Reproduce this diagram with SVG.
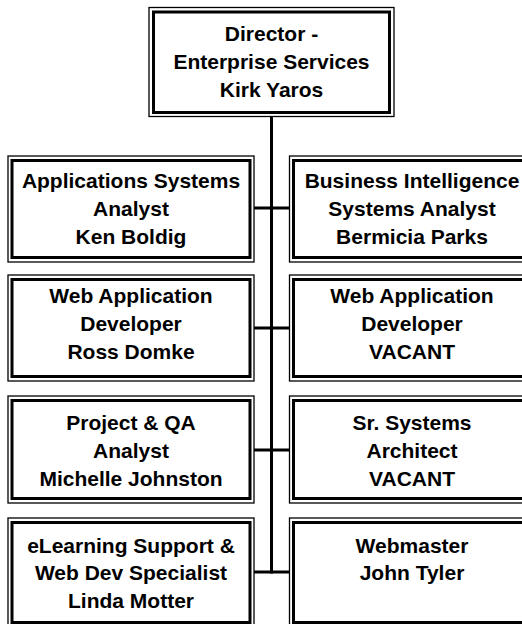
<svg xmlns="http://www.w3.org/2000/svg" width="522" height="624" viewBox="0 0 522 624">
<style>
.o{fill:none;stroke:#000;stroke-width:1.3}
.i{fill:#fff;stroke:#000;stroke-width:3}
.t{font-family:"Liberation Sans",Arial,sans-serif;font-weight:bold;font-size:21px;fill:#000;text-anchor:middle}
.c{stroke:#000;stroke-width:3;fill:none}
</style>
<rect width="522" height="624" fill="#fff"/>
<g id="connectors">
<line class="c" x1="271.5" y1="116" x2="271.5" y2="573.5"/>
<line class="c" x1="254" y1="208" x2="290" y2="208"/>
<line class="c" x1="254" y1="328" x2="290" y2="328"/>
<line class="c" x1="254" y1="450" x2="290" y2="450"/>
<line class="c" x1="254" y1="572" x2="290" y2="572"/>
</g>
<g id="director">
<rect class="o" x="149" y="7.5" width="245" height="109"/>
<rect class="i" x="153.5" y="12" width="236" height="100.5"/>
<text class="t" x="271.5" y="41">Director -</text>
<text class="t" x="271.5" y="69">Enterprise Services</text>
<text class="t" x="271.5" y="97">Kirk Yaros</text>
</g>
<g id="ken">
<rect class="o" x="8" y="156" width="246" height="106"/>
<rect class="i" x="12" y="160.5" width="238" height="97"/>
<text class="t" x="131" y="188">Applications Systems</text>
<text class="t" x="131" y="216">Analyst</text>
<text class="t" x="131" y="244">Ken Boldig</text>
</g>
<g id="bermicia">
<rect class="o" x="289.5" y="156" width="246" height="106"/>
<rect class="i" x="293.5" y="160.5" width="238" height="97"/>
<text class="t" x="412" y="188">Business Intelligence</text>
<text class="t" x="412" y="216">Systems Analyst</text>
<text class="t" x="412" y="244">Bermicia Parks</text>
</g>
<g id="ross">
<rect class="o" x="8" y="275" width="246" height="106"/>
<rect class="i" x="12" y="279.5" width="238" height="97"/>
<text class="t" x="131" y="302.5">Web Application</text>
<text class="t" x="131" y="330.5">Developer</text>
<text class="t" x="131" y="358.5">Ross Domke</text>
</g>
<g id="vacant1">
<rect class="o" x="289.5" y="275" width="246" height="106"/>
<rect class="i" x="293.5" y="279.5" width="238" height="97"/>
<text class="t" x="412" y="302.5">Web Application</text>
<text class="t" x="412" y="330.5">Developer</text>
<text class="t" x="412" y="358.5">VACANT</text>
</g>
<g id="michelle">
<rect class="o" x="8" y="396" width="246" height="107"/>
<rect class="i" x="12" y="400.5" width="238" height="98"/>
<text class="t" x="131" y="430">Project &amp; QA</text>
<text class="t" x="131" y="458">Analyst</text>
<text class="t" x="131" y="486">Michelle Johnston</text>
</g>
<g id="vacant2">
<rect class="o" x="289.5" y="396" width="246" height="107"/>
<rect class="i" x="293.5" y="400.5" width="238" height="98"/>
<text class="t" x="412" y="430">Sr. Systems</text>
<text class="t" x="412" y="458">Architect</text>
<text class="t" x="412" y="486">VACANT</text>
</g>
<g id="linda">
<rect class="o" x="8" y="518" width="246" height="108"/>
<rect class="i" x="12" y="522.5" width="238" height="100"/>
<text class="t" x="131" y="552.5">eLearning Support &amp;</text>
<text class="t" x="131" y="580">Web Dev Specialist</text>
<text class="t" x="131" y="607.5">Linda Motter</text>
</g>
<g id="john">
<rect class="o" x="289.5" y="518" width="246" height="108"/>
<rect class="i" x="293.5" y="522.5" width="238" height="100"/>
<text class="t" x="412" y="552.5">Webmaster</text>
<text class="t" x="412" y="580">John Tyler</text>
</g>
</svg>
